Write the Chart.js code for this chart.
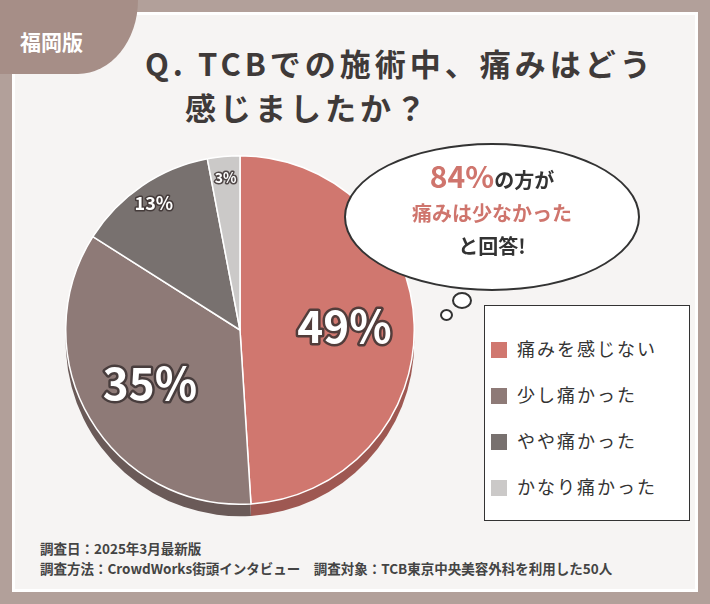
<!DOCTYPE html>
<html><head><meta charset="utf-8">
<script src="https://cdn.jsdelivr.net/npm/chart.js@4"></script>
<style>
body{margin:0;width:710px;height:604px;background:#b2a09a;font-family:"Noto Sans CJK JP",sans-serif;position:relative;overflow:hidden}
#panel{position:absolute;left:12px;top:12px;width:686px;height:580px;background:#f6f4f3;box-shadow:inset 0 0 0 3px #fff}
#corner{position:absolute;left:0;top:0;width:138px;height:74px;background:#a68e87;border-bottom-right-radius:60px 74px;color:#fff;font-weight:bold;font-size:21px;padding:26px 0 0 20px;box-sizing:border-box}
.t{position:absolute;color:#3f3a39;font-weight:bold;font-size:31px;letter-spacing:4px;white-space:nowrap}
#bubble{position:absolute;left:344px;top:143px;width:296px;height:148px;background:#fff;border:2px solid #333;border-radius:50%;box-sizing:border-box;text-align:center;font-weight:bold;color:#333;font-size:20px;line-height:33px;padding-top:14px}
.dot{position:absolute;background:#fff;border:2px solid #333;border-radius:50%}
.c{color:#cf756d}
#legend{position:absolute;left:484px;top:305px;width:206px;height:216px;background:#fff;border:1.5px solid #333;box-sizing:border-box}
.li{position:absolute;left:6px;font-size:18px;color:#333;letter-spacing:2px}
.li span{display:inline-block;width:16px;height:16px;margin-right:10px;vertical-align:-2px}
.f{position:absolute;left:40px;font-size:13.5px;font-weight:bold;color:#444;white-space:nowrap}
#wrap{position:absolute;left:65px;top:155px;width:350px;height:372px}
</style></head><body>
<div id="panel"></div>
<div id="corner">福岡版</div>
<div class="t" style="left:145px;top:40px">Q.&nbsp;TCBでの施術中、痛みはどう</div>
<div class="t" style="left:185px;top:84px">感じましたか？</div>
<div id="wrap"><canvas id="pie"></canvas></div>
<div id="bubble"><span class="c" style="font-size:30px">84%</span>の方が<br><span class="c">痛みは少なかった</span><br>と回答!</div>
<div class="dot" style="left:452px;top:292px;width:16px;height:13px"></div>
<div class="dot" style="left:440px;top:309px;width:9px;height:8px"></div>
<div id="legend"></div>
<div class="f" style="top:538px">調査日：2025年3月最新版</div>
<div class="f" style="top:558px">調査方法：CrowdWorks街頭インタビュー　調査対象：TCB東京中央美容外科を利用した50人</div>
<script>
var labels = ['痛みを感じない', '少し痛かった', 'やや痛かった', 'かなり痛かった'];
var values = [49, 35, 13, 3];
var colors = ['#d0776f', '#8e7a77', '#78716f', '#cbc9c8'];
var shades = ['#9e5852', '#6a5a58', '#5a5453', '#9a9897'];

var lg = document.getElementById('legend');
labels.forEach(function(l, i) {
    var d = document.createElement('div');
    d.className = 'li';
    d.style.top = (29 + i * 46) + 'px';
    d.innerHTML = '<span style="background:' + colors[i] + '"></span>' + l;
    lg.appendChild(d);
});

var depth = {
    id: 'depth',
    beforeDatasetsDraw: function(chart) {
        var c = chart.ctx;
        chart.getDatasetMeta(0).data.forEach(function(a, i) {
            c.save();
            c.beginPath();
            c.moveTo(a.x, a.y + 12);
            c.arc(a.x, a.y + 12, a.outerRadius, a.startAngle, a.endAngle);
            c.closePath();
            c.fillStyle = shades[i];
            c.fill();
            c.restore();
        });
    },
    afterDatasetsDraw: function(chart) {
        var c = chart.ctx;
        chart.getDatasetMeta(0).data.forEach(function(a, i) {
            var mid = (a.startAngle + a.endAngle) / 2;
            var r = a.outerRadius * (i >= 2 ? 0.88 : 0.6);
            var size = i == 3 ? 14 : (i == 2 ? 18 : 44);
            var x = a.x + Math.cos(mid) * r, y = a.y + Math.sin(mid) * r;
            c.save();
            c.font = 'bold ' + size + 'px "Noto Sans CJK JP"';
            c.textAlign = 'center';
            c.textBaseline = 'middle';
            c.lineJoin = 'round';
            c.lineWidth = size > 20 ? 5 : 3;
            c.strokeStyle = 'rgba(60,50,50,0.85)';
            c.strokeText(values[i] + '%', x, y);
            c.fillStyle = '#fff';
            c.fillText(values[i] + '%', x, y);
            c.restore();
        });
    }
};

new Chart(document.getElementById('pie'), {
    type: 'pie',
    data: { labels: labels, datasets: [{ data: values, backgroundColor: colors, borderColor: '#fff', borderWidth: 1.5 }] },
    options: {
        responsive: true, maintainAspectRatio: false, animation: false,
        layout: { padding: { bottom: 22 } },
        plugins: { legend: { display: false }, tooltip: { enabled: false } }
    },
    plugins: [depth]
});
</script>
</body></html>
